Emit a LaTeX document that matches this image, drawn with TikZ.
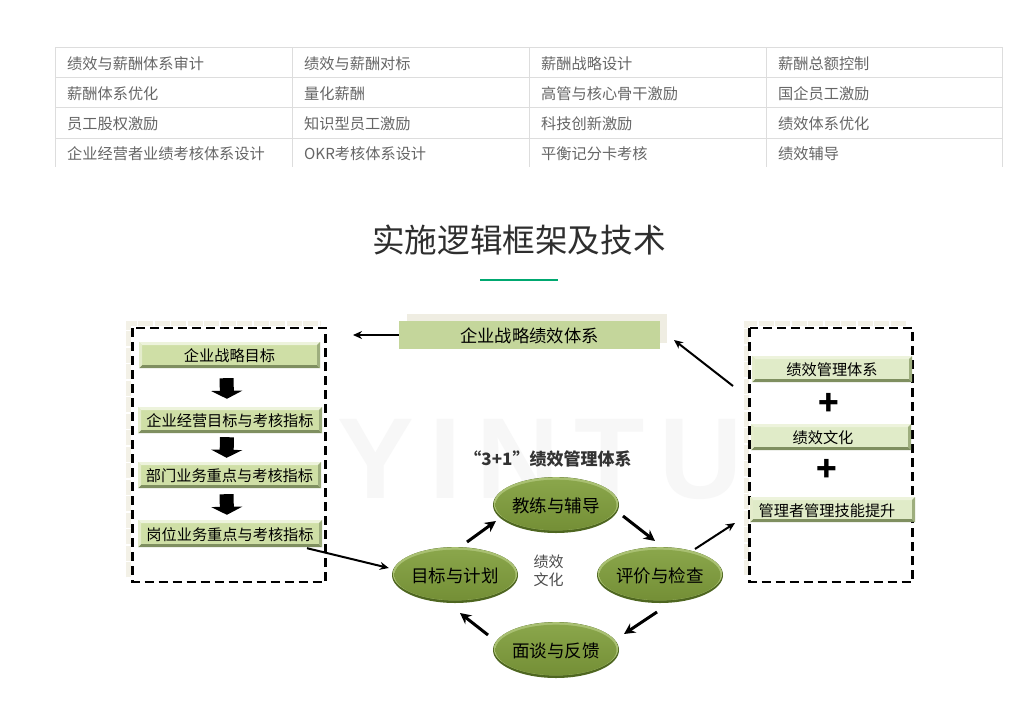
\documentclass[tikz,border=0pt]{standalone}
\usepackage{fontspec}
\usetikzlibrary{arrows.meta,shapes.geometric}
\setmainfont{Noto Sans CJK SC}
\newfontfamily\wmfont[LetterSpace=13]{Liberation Sans}
\newcommand{\fs}[1]{\fontsize{#1}{#1}\selectfont}
\newcommand{\dn}[1]{\raisebox{-1pt}[\height][\depth]{#1}}
\definecolor{tbltext}{HTML}{666666}
\definecolor{tblline}{HTML}{DDDDDD}
\definecolor{cream}{HTML}{F3F1E7}
\definecolor{creamtop}{HTML}{EFEDE2}
\definecolor{leftfill}{HTML}{CFDFA6}
\definecolor{rightfill}{HTML}{E0EBC8}
\definecolor{bevtop}{HTML}{EDF3DC}
\definecolor{bevbot}{HTML}{7F8F60}
\definecolor{bevside}{HTML}{9EAE7E}
\definecolor{bevleft}{HTML}{E4ECCB}
\definecolor{topfill}{HTML}{C4D69B}
\definecolor{olivelt}{HTML}{8AA64B}
\definecolor{olivedk}{HTML}{748F36}
\definecolor{ovalrim}{HTML}{A9C072}
\definecolor{ovaledge}{HTML}{4E6620}
\definecolor{rulegreen}{HTML}{00A870}
\begin{document}
\begin{tikzpicture}[x=1pt,y=-1pt,
  cell/.style={anchor=west,inner sep=0pt,text=tbltext,font=\fs{15.2}},
  bevel/.style={rectangle,inner sep=0pt,text=black,font=\fs{15.2},
    path picture={
      \fill[bevtop] (path picture bounding box.north west) -- (path picture bounding box.north east) -- ++(-3,3) -- ([shift={(3,3)}]path picture bounding box.north west) -- cycle;
      \fill[bevbot] (path picture bounding box.south west) -- (path picture bounding box.south east) -- ++(-3,-3) -- ([shift={(3,-3)}]path picture bounding box.south west) -- cycle;
      \fill[bevside] (path picture bounding box.north east) -- (path picture bounding box.south east) -- ++(-3,-3) -- ([shift={(-3,3)}]path picture bounding box.north east) -- cycle;
      \fill[bevleft] (path picture bounding box.north west) -- (path picture bounding box.south west) -- ++(3,-3) -- ([shift={(3,3)}]path picture bounding box.north west) -- cycle;
    }},
  leftbox/.style={bevel,fill=leftfill},
  rightbox/.style={bevel,fill=rightfill},
  oval/.style={ellipse,inner sep=0pt,minimum width=126pt,minimum height=56pt,fill=ovaledge,font=\fs{17.5},text=black,
    path picture={
      \fill[ovalrim] (path picture bounding box.center) ++(0,-1.2) circle[x radius=62.2,y radius=26.6];
      \shade[top color=olivelt,bottom color=olivedk] (path picture bounding box.center) circle[x radius=60.5,y radius=25.3];
    }},
  frame/.style={draw=black,line width=2.2pt,dash pattern=on 9pt off 5pt},
  paleframe/.style={draw=cream,line width=5pt,dash pattern=on 15pt off 1.5pt},
  link/.style={draw=black,line width=2pt,-{Stealth[length=9pt,width=8pt]}},
  cyc/.style={draw=black,line width=3pt,-{Stealth[length=11pt,width=11pt]}},
  blockarrow/.style={draw=black,line width=14pt,-{Triangle[length=8pt,width=31pt]}},
  plus/.style={inner sep=0pt,font=\bfseries\fs{34},text=black}
]
\useasboundingbox (0,0) rectangle (1009,704);
\fill[white] (0,0) rectangle (1009,704);

% table
\foreach \yy in {47,77.5,107.5,138}
  \draw[tblline,line width=1pt] (55,\yy) -- (1002,\yy);
\foreach \xx in {55.5,292.5,529.5,766.5,1002.5}
  \draw[tblline,line width=1pt] (\xx,47) -- (\xx,167);
\node[cell] (t11) at (67,64) {绩效与薪酬体系审计};
\node[cell] (t12) at (304,64) {绩效与薪酬对标};
\node[cell] (t13) at (541,64) {薪酬战略设计};
\node[cell] (t14) at (778,64) {薪酬总额控制};
\node[cell] (t21) at (67,94) {薪酬体系优化};
\node[cell] (t22) at (304,94) {量化薪酬};
\node[cell] (t23) at (541,94) {高管与核心骨干激励};
\node[cell] (t24) at (778,94) {国企员工激励};
\node[cell] (t31) at (67,124) {员工股权激励};
\node[cell] (t32) at (304,124) {知识型员工激励};
\node[cell] (t33) at (541,124) {科技创新激励};
\node[cell] (t34) at (778,124) {绩效体系优化};
\node[cell] (t41) at (67,154) {企业经营者业绩考核体系设计};
\node[cell] (t42) at (304,154) {OKR考核体系设计};
\node[cell] (t43) at (541,154) {平衡记分卡考核};
\node[cell] (t44) at (778,154) {绩效辅导};

% title
\node[inner sep=0pt,font=\fs{32.6},text=black!82] (title) at (519,240) {实施逻辑框架及技术};
\fill[rulegreen] (480,279) rectangle (558,281);

% watermark
\node[inner sep=0pt,font=\wmfont\bfseries\fs{115},text=black!3] (wm) at (540,459) {YINTU};

% frames
\draw[paleframe] (128,577) -- (128,323) -- (320,323);
\draw[frame] (132.5,328) rectangle (325.5,582);
\draw[paleframe] (746,575) -- (746,323.5) -- (906,323.5);
\draw[frame] (749.5,328) rectangle (912.5,582);

% top box
\fill[creamtop] (407,314) rectangle (667,343);
\node[rectangle,inner sep=0pt,fill=topfill,minimum width=261pt,minimum height=28pt,font=\fs{17.3},text=black] (top) at (529.5,335) {\dn{企业战略绩效体系}};
\coordinate (topleft) at (353,335);
\coordinate (topright) at (674,340);

% left boxes
\node[leftbox,minimum width=181pt,minimum height=26pt] (l1) at (229.5,355) {\dn{企业战略目标}};
\node[leftbox,minimum width=184pt,minimum height=26pt] (l2) at (230,420) {\dn{企业经营目标与考核指标}};
\node[leftbox,minimum width=183pt,minimum height=26pt] (l3) at (229.5,475) {\dn{部门业务重点与考核指标}};
\node[leftbox,minimum width=184pt,minimum height=27pt] (l4) at (230,533.5) {\dn{岗位业务重点与考核指标}};

% right boxes
\node[rightbox,minimum width=160pt,minimum height=26pt] (r1) at (832,369) {\dn{绩效管理体系}};
\node[rightbox,minimum width=160pt,minimum height=26pt] (r2) at (831,437) {\dn{绩效文化}\hspace*{16pt}};
\node[rightbox,minimum width=165pt,minimum height=25pt] (r3) at (832.5,509.5) {\dn{管理者管理技能提升}\hspace*{11pt}};
\node[plus] (p1) at (829,404) {+};
\node[plus] (p2) at (827,470) {+};

% ovals
\node[oval] (etop) at (556,505) {\dn{教练与辅导}};
\node[oval] (eleft) at (455,575) {\dn{目标与计划}};
\node[oval] (eright) at (660,575) {\dn{评价与检查}};
\node[oval] (ebot) at (556,650) {\dn{面谈与反馈}};
\node[inner sep=0pt,font=\bfseries\fs{17},text=black!80] (h31) at (548,459) {“3+1”绩效管理体系};
\node[inner sep=0pt,align=center,font=\fs{15},text=black!70] (cult) at (548.5,571) {绩效\\[3pt]文化};

% block arrows
\draw[blockarrow,shorten <=10pt,shorten >=8pt] ([xshift=-3pt]l1.south) -- ([xshift=-3pt]l2.north);
\draw[blockarrow,shorten <=4pt,shorten >=4pt] ([xshift=-3pt]l2.south) -- ([xshift=-3pt]l3.north);
\draw[blockarrow,shorten <=6pt,shorten >=5pt] ([xshift=-3pt]l3.south) -- ([xshift=-3pt]l4.north);

% connectors
\draw[link] (top.west) -- (topleft);
\coordinate (rframeout) at (733,386);
\coordinate (rframein) at (735,523);
\draw[link] (rframeout) -- (topright);
\draw[link] ([shift={(77,1)}]l4.south) -- ([shift={(-3,-7)}]eleft.west);
\draw[link] ([shift={(35,-26)}]eright.center) -- (rframein);
\draw[cyc] ([shift={(12,-33)}]eleft.center) -- ([shift={(-60,16)}]etop.center);
\draw[cyc] ([shift={(67,11)}]etop.center) -- ([shift={(-5,-34)}]eright.center);
\draw[cyc] ([shift={(-3,37)}]eright.center) -- ([shift={(68,-16)}]ebot.center);
\draw[cyc] ([shift={(-68,-15)}]ebot.center) -- ([shift={(5,38)}]eleft.center);
\end{tikzpicture}
\end{document}
